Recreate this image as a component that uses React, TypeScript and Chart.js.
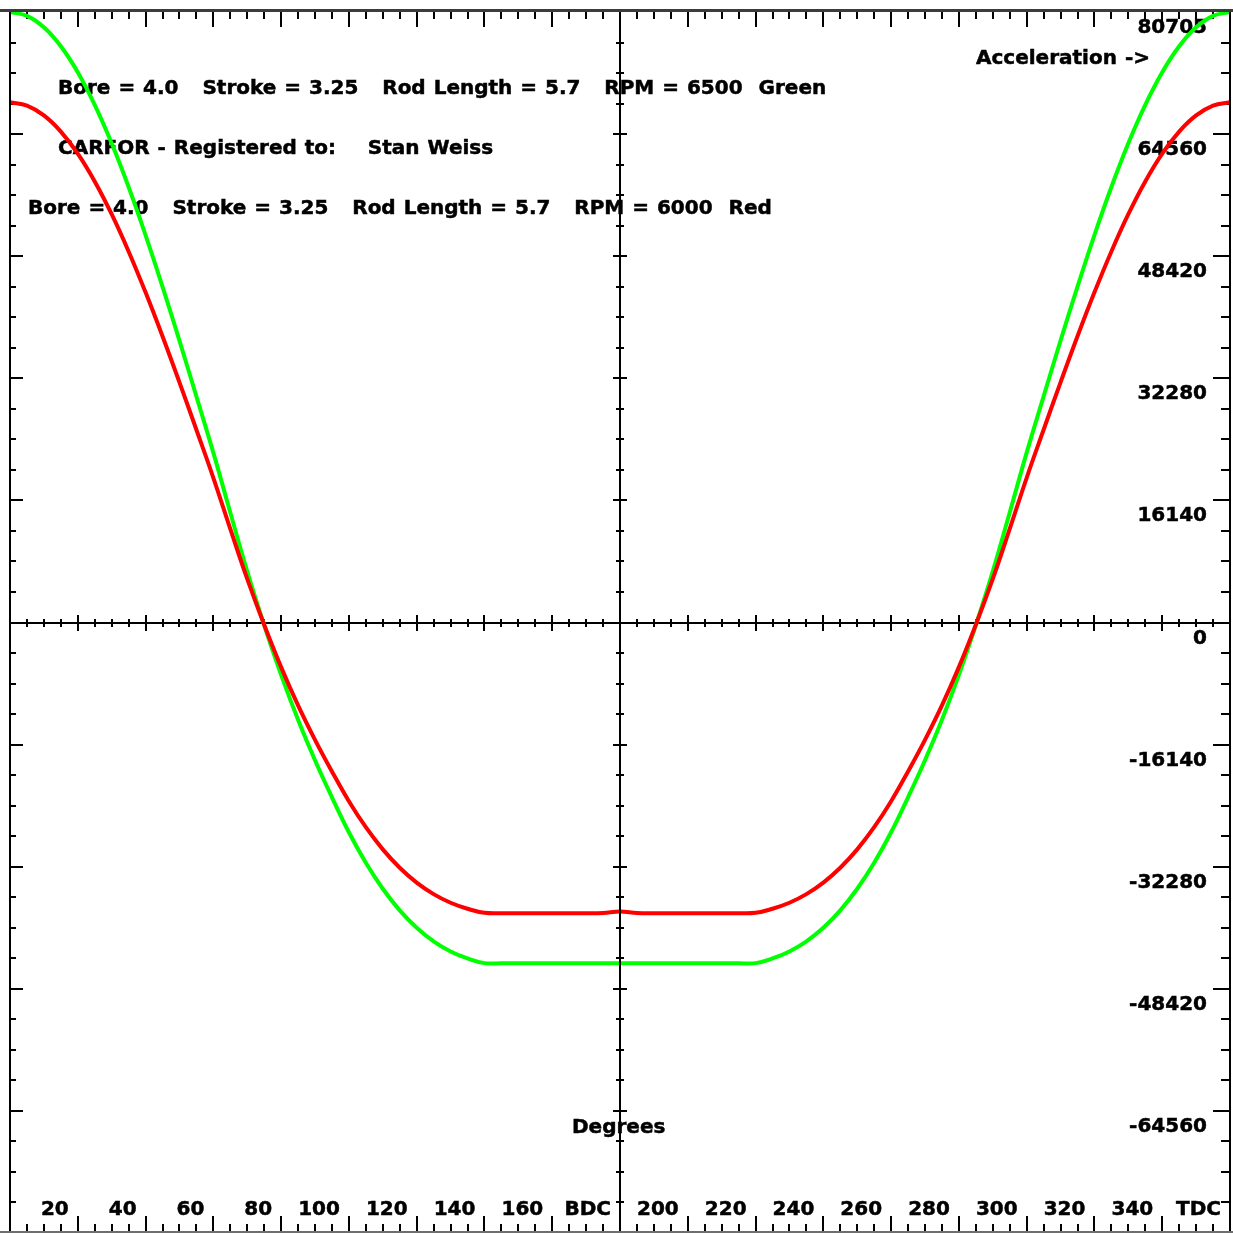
import React, { useEffect, useRef } from "react";
import { Chart, registerables } from "chart.js";

Chart.register(...registerables);

// ---- data ----
const degrees = [
  0, 5, 10, 15, 20, 25, 30, 35, 40, 45, 50, 55, 60, 65, 70, 75, 80, 85, 90, 95,
  100, 105, 110, 115, 120, 125, 130, 135, 140, 145, 150, 155, 160, 165, 170, 175,
  180, 185, 190, 195, 200, 205, 210, 215, 220, 225, 230, 235, 240, 245, 250, 255,
  260, 265, 270, 275, 280, 285, 290, 295, 300, 305, 310, 315, 320, 325, 330, 335,
  340, 345, 350, 355, 360,
];

const green6500 = [
  80705, 80194, 78676, 76167, 72735, 68425, 63346, 57567, 51219, 44407, 37263, 29898,
  22453, 14533, 6760, -351, -6920, -12858, -18206, -23106, -27729, -31760, -35196,
  -38050, -40353, -42145, -43481, -44407, -45030, -45050, -45050, -45050, -45050,
  -45050, -45050, -45050, -45050, -45050, -45050, -45050, -45050, -45050, -45050,
  -45050, -45030, -44407, -43481, -42145, -40353, -38050, -35196, -31760, -27729,
  -23106, -18206, -12858, -6920, -351, 6760, 14533, 22453, 29898, 37263, 44407,
  51219, 57567, 63346, 68425, 72735, 76167, 78676, 80194, 80705,
];

const red6000 = [
  68766, 68330, 67037, 64900, 61975, 58303, 53975, 49052, 43642, 37838, 31751, 25475,
  19131, 12380, 5760, -300, -5900, -10960, -15510, -19688, -23627, -27062, -29990,
  -32421, -34384, -35911, -37049, -37838, -38380, -38440, -38440, -38440, -38440,
  -38440, -38440, -38400, -38200, -38400, -38440, -38440, -38440, -38440, -38440,
  -38440, -38380, -37838, -37049, -35911, -34384, -32421, -29990, -27062, -23627,
  -19688, -15510, -10960, -5900, -300, 5760, 12380, 19131, 25475, 31751, 37838,
  43642, 49052, 53975, 58303, 61975, 64900, 67037, 68330, 68766,
];

const xLabelValues = [20, 40, 60, 80, 100, 120, 140, 160, 180, 200, 220, 240, 260, 280, 300, 320, 340, 360];
const xLabels = ["20", "40", "60", "80", "100", "120", "140", "160", "BDC", "200", "220", "240", "260", "280", "300", "320", "340", "TDC"];

const yLabelValues = [80705, 64560, 48420, 32280, 16140, 0, -16140, -32280, -48420, -64560];
const yLabels = ["80705", "64560", "48420", "32280", "16140", "0", "-16140", "-32280", "-48420", "-64560"];

const Y_MAX = 80705;
const X_MAX = 360;

const textGreen = "Bore = 4.0   Stroke = 3.25   Rod Length = 5.7   RPM = 6500  Green";
const textReg = "CARFOR - Registered to:    Stan Weiss";
const textRed = "Bore = 4.0   Stroke = 3.25   Rod Length = 5.7   RPM = 6000  Red";
const textAccel = "Acceleration ->";
const textDeg = "Degrees";

const FONT = 'bold 20px "DejaVu Sans"';

function boldText(ctx: any, s: string, x: number, y: number) {
  ctx.fillText(s, x, y);
  ctx.strokeText(s, x, y);
}

const framePlugin = {
  id: "carforFrame",
  beforeDraw(chart: any) {
    const ctx = chart.ctx;
    ctx.save();
    ctx.fillStyle = "#ffffff";
    ctx.fillRect(0, 0, chart.width, chart.height);
    ctx.restore();
  },
  beforeDatasetsDraw(chart: any) {
    const { ctx, chartArea: a, scales } = chart;
    const xs = scales.x;
    const ys = scales.y;
    ctx.save();
    ctx.fillStyle = "#000000";
    const y0 = ys.getPixelForValue(0);
    // zero axis
    ctx.fillRect(a.left, Math.round(y0) - 1, a.right - a.left, 2);
    // x ticks (every 5 deg, major every 20)
    for (let d = 5; d < X_MAX; d += 5) {
      const px = Math.round(xs.getPixelForValue(d));
      const major = d % 20 === 0;
      const len = major ? 15 : 7;
      ctx.fillRect(px - 1, a.top, 2, len);
      ctx.fillRect(px - 1, a.bottom - 2 - len, 2, len);
      const h = major ? 8 : 4;
      ctx.fillRect(px - 1, Math.round(y0) - h, 2, 2 * h);
    }
    // y ticks on left and right borders
    const step = Y_MAX / 20;
    for (let k = -19; k <= 19; k++) {
      const py = Math.round(ys.getPixelForValue(k * step));
      const major = k % 4 === 0;
      ctx.fillRect(a.left, py - 1, major ? 13 : 6, 2);
      const rl = major ? 16 : 8;
      ctx.fillRect(a.right - 1 - rl, py - 1, rl, 2);
    }
    // texts
    ctx.font = FONT;
    ctx.strokeStyle = "#000000";
    ctx.lineWidth = 0.5;
    try { (ctx as any).wordSpacing = "1px"; } catch (e) { /* ignore */ }
    ctx.textBaseline = "alphabetic";
    ctx.textAlign = "left";
    boldText(ctx, textGreen, 58, 94);
    boldText(ctx, textReg, 58, 154);
    boldText(ctx, textRed, 28, 214);
    boldText(ctx, textAccel, 976, 64);
    boldText(ctx, textDeg, 572, 1133);
    try { (ctx as any).wordSpacing = "0px"; } catch (e) { /* ignore */ }
    // y labels
    ctx.textAlign = "right";
    yLabelValues.forEach((v, i) => {
      const py = ys.getPixelForValue(v);
      boldText(ctx, yLabels[i], 1207, py + 21);
    });
    // x labels
    xLabelValues.forEach((v, i) => {
      const px = xs.getPixelForValue(v);
      boldText(ctx, xLabels[i], px - 9, 1215);
    });
    ctx.restore();
  },
  afterDatasetsDraw(chart: any) {
    const { ctx, chartArea: a, scales } = chart;
    const xs = scales.x;
    const ys = scales.y;
    ctx.save();
    ctx.fillStyle = "#000000";
    // BDC vertical axis
    const xb = Math.round(xs.getPixelForValue(180));
    ctx.fillRect(xb - 1, a.top, 2, a.bottom - a.top);
    const step = Y_MAX / 20;
    for (let k = -19; k <= 19; k++) {
      const py = Math.round(ys.getPixelForValue(k * step));
      const major = k % 4 === 0;
      const w = major ? 7 : 4;
      ctx.fillRect(xb - w, py - 1, 2 * w, 2);
    }
    // frame
    ctx.fillStyle = "#000000";
    ctx.fillRect(a.left - 1, a.top, 2, a.bottom - a.top);
    ctx.fillRect(a.right - 1, a.top, 2, a.bottom - a.top);
    ctx.fillStyle = "#3c3c3c";
    ctx.fillRect(0, a.top - 3, chart.width, 3);
    ctx.fillStyle = "#6e6e6e";
    ctx.fillRect(0, a.bottom - 2, chart.width, 2);
    ctx.restore();
  },
};

export default function App() {
  const canvasRef = useRef<HTMLCanvasElement | null>(null);

  useEffect(() => {
    const canvas = canvasRef.current;
    if (!canvas) return;
    const chart = new Chart(canvas, {
      type: "line",
      data: {
        labels: degrees,
        datasets: [
          {
            label: "RPM 6000 (Red)",
            data: degrees.map((d, i) => ({ x: d, y: red6000[i] })),
            borderColor: "#ff0000",
            backgroundColor: "#ff0000",
            borderWidth: 4,
            pointRadius: 0,
            fill: false,
            tension: 0.4,
            clip: false,
          },
          {
            label: "RPM 6500 (Green)",
            data: degrees.map((d, i) => ({ x: d, y: green6500[i] })),
            borderColor: "#00ff00",
            backgroundColor: "#00ff00",
            borderWidth: 4,
            pointRadius: 0,
            fill: false,
            tension: 0.4,
            clip: false,
          },
        ],
      },
      options: {
        animation: false,
        responsive: false,
        devicePixelRatio: 1,
        layout: { padding: { left: 10, right: 3, top: 12, bottom: 0 } },
        scales: {
          x: { type: "linear", min: 0, max: X_MAX, display: false },
          y: { type: "linear", min: -Y_MAX, max: Y_MAX, display: false },
        },
        plugins: {
          legend: { display: false },
          tooltip: { enabled: false },
        },
      },
      plugins: [framePlugin],
    } as any);
    return () => chart.destroy();
  }, []);

  return (
    <div style={{ position: "absolute", left: 0, top: 0, width: 1233, height: 1233, background: "#fff" }}>
      <canvas ref={canvasRef} width={1233} height={1233} style={{ display: "block" }} />
    </div>
  );
}
